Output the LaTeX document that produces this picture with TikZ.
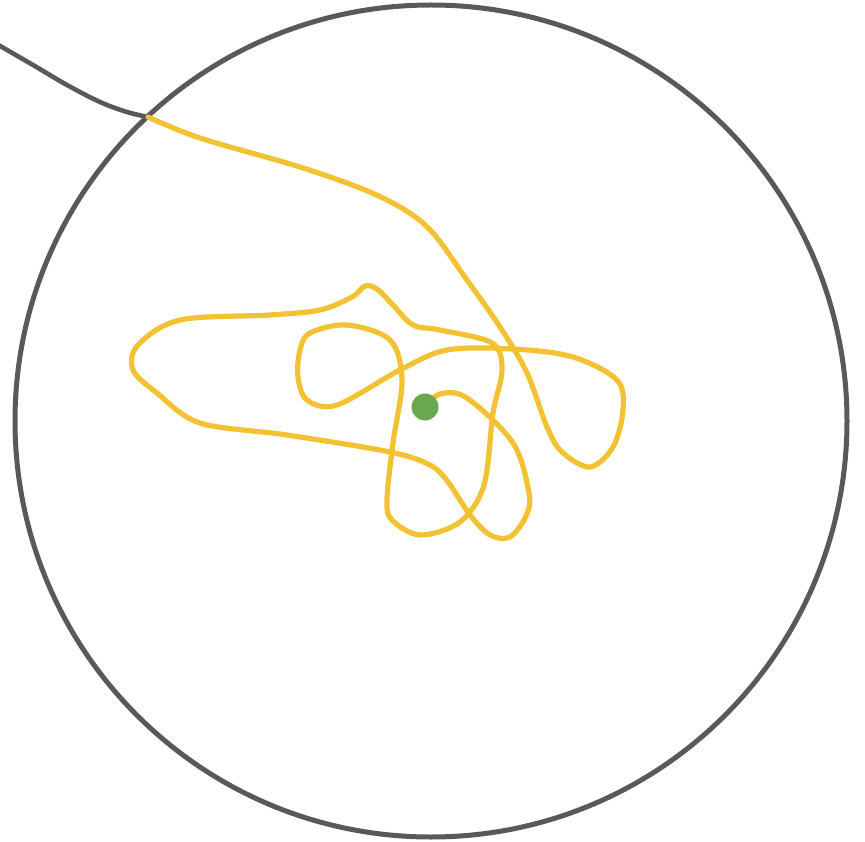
\documentclass[tikz,border=0pt]{standalone}
\begin{document}
\begin{tikzpicture}[x=1pt,y=-1pt,
  ring/.style={draw=ringgray,line width=5pt},
  tether/.style={draw=ringgray,line width=4.6pt},
  trail/.style={draw=trailyellow,line width=5.2pt,line cap=round,line join=round},
  dot/.style={circle,fill=dotgreen,inner sep=0pt,minimum size=27pt}]
\definecolor{ringgray}{HTML}{595959}
\definecolor{trailyellow}{HTML}{F2C232}
\definecolor{dotgreen}{HTML}{6AA84F}
\useasboundingbox (0,0) rectangle (865,842);
\draw[ring] (431,421) circle[radius=416];
\draw[tether] plot[smooth,tension=0.6] coordinates {(-5,43) (33,65) (67,85) (100,102) (127,112) (148,117)};
\draw[trail] plot[smooth,tension=0.55] coordinates {
(148,117) (200,138) (300,167) (365,190) (405,210) (433,233) (467,280) (500,327) (527,373) (547,427) (562,452) (590,467) (613,447) (623,410) (617,380) (573,357) (513,349) (447,350) (400,370) (337,405) (307,400) (298,377) (300,350) (310,333) (347,325) (390,340) (402,380) (393,443) (387,500) (392,520) (420,535) (460,522) (484,485) (493,413) (502,370) (492,343) (440,330) (413,325) (393,305) (377,289) (365,286) (352,297) (320,310) (270,315) (180,320) (138,345) (133,370) (157,393) (200,423) (287,435) (390,452) (430,465) (448,482) (470,515) (490,535) (510,537) (526,516) (529,493) (513,443) (467,398) (440,394) (425,407)};
\node[dot] (end) at (425,407) {};
\end{tikzpicture}
\end{document}
